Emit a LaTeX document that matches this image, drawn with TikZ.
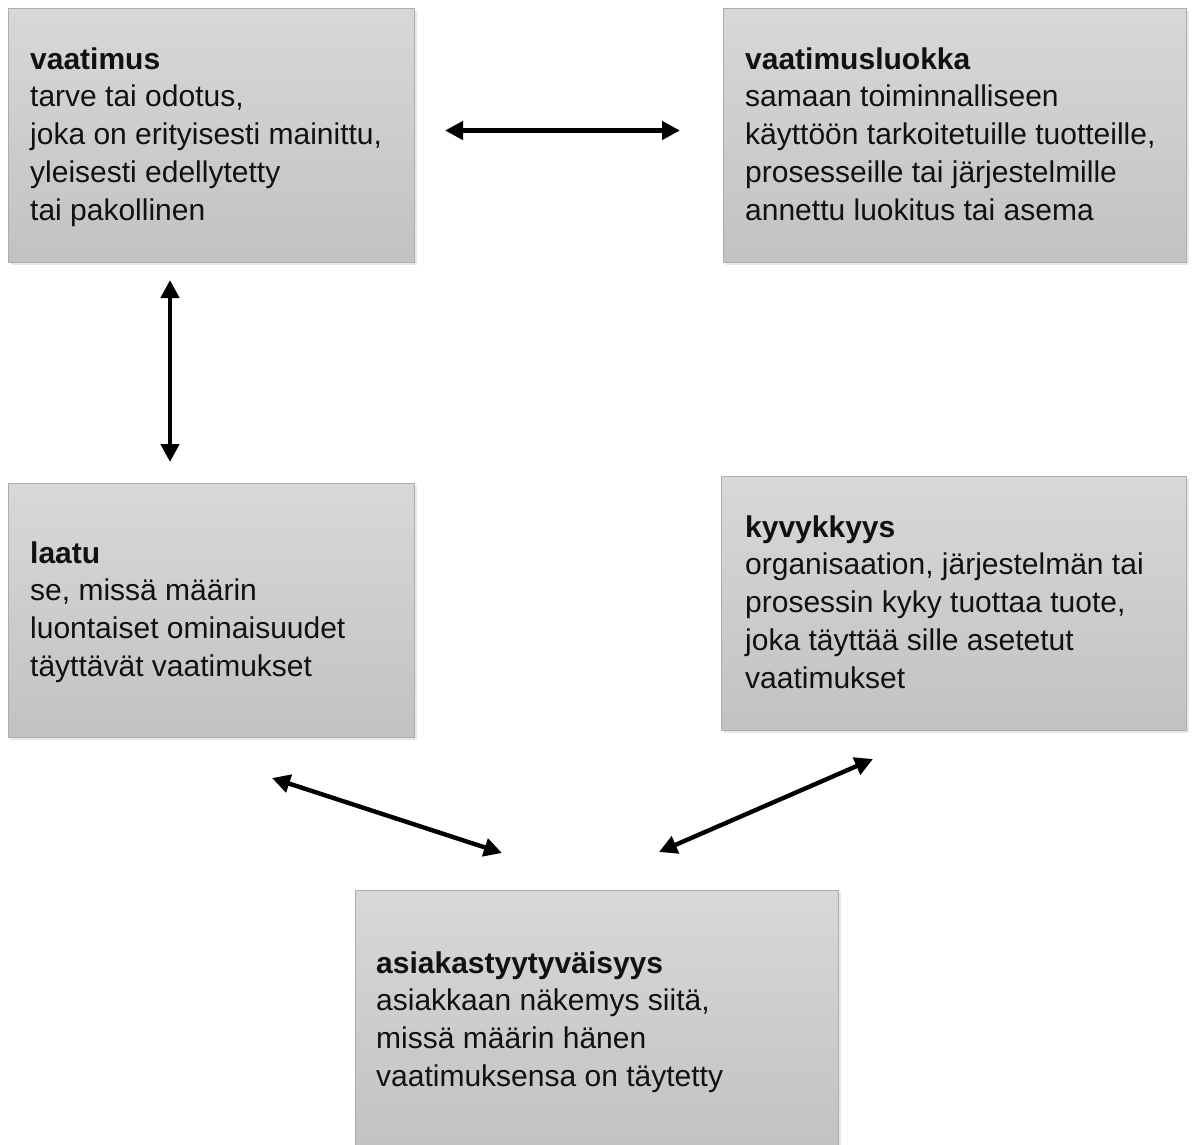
\documentclass[tikz,border=0pt]{standalone}
\usepackage{fontspec}
\setmainfont{Liberation Sans}
\usetikzlibrary{arrows.meta,shadows}
\definecolor{boxtop}{HTML}{D8D8D8}
\definecolor{boxbot}{HTML}{C2C2C2}
\definecolor{boxline}{HTML}{ADADAD}
\definecolor{inktext}{HTML}{111111}
\begin{document}
\begin{tikzpicture}[x=1pt,y=-1pt,
  box/.style={draw=boxline, line width=0.8pt, top color=boxtop, bottom color=boxbot,
    anchor=north west, inner sep=0pt,
    drop shadow={opacity=0.18, shadow xshift=2.5pt, shadow yshift=-2.5pt}},
  link/.style={line width=4.4pt, {Triangle[length=18pt,width=18pt]}-{Triangle[length=18pt,width=18pt]}},
  txt/.style={anchor=base west, inner sep=0pt, text=inktext,
    font=\fontsize{30}{37.75}\selectfont}]

% canvas
\useasboundingbox (0,0) rectangle (1197,1144);
\clip (0,0) rectangle (1197,1144);

% boxes
\node[box, minimum width=406pt, minimum height=254pt] (vaat)  at (8,8) {};
\node[box, minimum width=463pt, minimum height=254pt] (luokka) at (723,8) {};
\node[box, minimum width=406pt, minimum height=254pt] (laatu) at (8,483) {};
\node[box, minimum width=465pt, minimum height=254pt] (kyky)  at (721,476) {};
\node[box, minimum width=483pt, minimum height=260pt] (asiak) at (355,890) {};

% definitions
\node[txt] (vaatT) at (30,69) {\parbox[t]{380pt}{\raggedright
  \textbf{vaatimus}\\
  tarve tai odotus,\\
  joka on erityisesti mainittu,\\
  yleisesti edellytetty\\
  tai pakollinen}};
\node[txt] (luokkaT) at (745,69) {\parbox[t]{440pt}{\raggedright
  \textbf{vaatimusluokka}\\
  samaan toiminnalliseen\\
  käyttöön tarkoitetuille tuotteille,\\
  prosesseille tai järjestelmille\\
  annettu luokitus tai asema}};
\node[txt] (laatuT) at (30,563) {\parbox[t]{380pt}{\raggedright
  \textbf{laatu}\\
  se, missä määrin\\
  luontaiset ominaisuudet\\
  täyttävät vaatimukset}};
\node[txt] (kykyT) at (745,537) {\parbox[t]{440pt}{\raggedright
  \textbf{kyvykkyys}\\
  organisaation, järjestelmän tai\\
  prosessin kyky tuottaa tuote,\\
  joka täyttää sille asetetut\\
  vaatimukset}};
\node[txt] (asiakT) at (376,973) {\parbox[t]{450pt}{\raggedright
  \textbf{asiakastyytyväisyys}\\
  asiakkaan näkemys siitä,\\
  missä määrin hänen\\
  vaatimuksensa on täytetty}};

% connector ends
\coordinate (h1) at (445,130.5);
\coordinate (h2) at (680,130.5);
\coordinate (v1) at (170,280);
\coordinate (v2) at (170,462);
\coordinate (l1) at (272,778);
\coordinate (l2) at (502,853);
\coordinate (r1) at (873,759);
\coordinate (r2) at (659,852);

% connectors
\draw[link] (h1) -- (h2);
\draw[link] (v1) -- (v2);
\draw[link] (l1) -- (l2);
\draw[link] (r1) -- (r2);
\end{tikzpicture}
\end{document}
